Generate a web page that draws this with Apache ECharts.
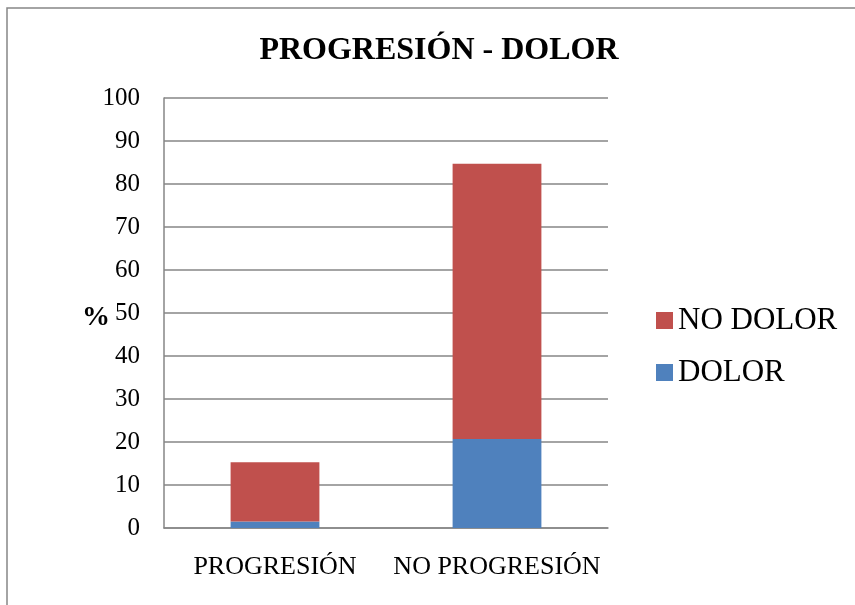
<!DOCTYPE html>
<html>
<head>
<meta charset="utf-8">
<script src="https://cdn.jsdelivr.net/npm/echarts@6/dist/echarts.min.js"></script>
<style>
  html, body { margin: 0; padding: 0; background: #fff; }
  #chart { width: 855px; height: 605px; }
</style>
</head>
<body>
<div id="chart"></div>
<script>
// Categories and stacked percentages
const categories = ['PROGRESIÓN', 'NO PROGRESIÓN'];
const dolor = [1.5, 20.7];
const noDolor = [13.8, 64.0];
const yTicks = { min: 0, max: 100, interval: 10 };

const FONT = '"Liberation Serif", "Times New Roman", serif';
const GRID = '#868686';

const chart = echarts.init(document.getElementById('chart'), null, { renderer: 'canvas' });

chart.setOption({
  backgroundColor: '#ffffff',
  animation: false,
  title: {
    text: 'PROGRESIÓN - DOLOR',
    left: 434,
    top: 30,
    textAlign: 'center',
    textStyle: { fontFamily: FONT, fontSize: 32, fontWeight: 'bold', color: '#000' }
  },
  graphic: [
    {
      type: 'rect',
      shape: { x: 7, y: 8, width: 900, height: 700 },
      style: { fill: 'none', stroke: GRID, lineWidth: 1.5 }
    },
    {
      type: 'text',
      x: 96, y: 318,
      style: {
        text: '%', fontFamily: FONT, fontSize: 28, fontWeight: 'bold',
        fill: '#000', align: 'center', verticalAlign: 'middle'
      }
    }
  ],
  legend: {
    orient: 'vertical',
    left: 651,
    top: 300,
    itemWidth: 17,
    itemHeight: 17,
    itemGap: 21,
    icon: 'rect',
    data: ['NO DOLOR', 'DOLOR'],
    textStyle: { fontFamily: FONT, fontSize: 31, lineHeight: 31, color: '#000' }
  },
  grid: { left: 164, top: 98, right: 247, bottom: 77, containLabel: false },
  xAxis: {
    type: 'category',
    data: categories,
    axisLine: { show: true, lineStyle: { color: GRID, width: 1.5 } },
    axisTick: { show: false },
    axisLabel: {
      interval: 0, hideOverlap: false,
      fontFamily: FONT, fontSize: 26, color: '#000', margin: 26
    }
  },
  yAxis: {
    type: 'value',
    min: yTicks.min,
    max: yTicks.max,
    interval: yTicks.interval,
    axisLine: { show: true, lineStyle: { color: GRID, width: 1.5 } },
    axisTick: { show: false },
    axisLabel: { fontFamily: FONT, fontSize: 25, color: '#000', margin: 24 },
    splitLine: { show: true, lineStyle: { color: GRID, width: 1.5 } }
  },
  series: [
    {
      name: 'DOLOR',
      type: 'bar',
      stack: 'total',
      data: dolor,
      barWidth: '40%',
      itemStyle: { color: '#4F81BD' }
    },
    {
      name: 'NO DOLOR',
      type: 'bar',
      stack: 'total',
      data: noDolor,
      barWidth: '40%',
      itemStyle: { color: '#C0504D' }
    }
  ]
});
</script>
</body>
</html>
